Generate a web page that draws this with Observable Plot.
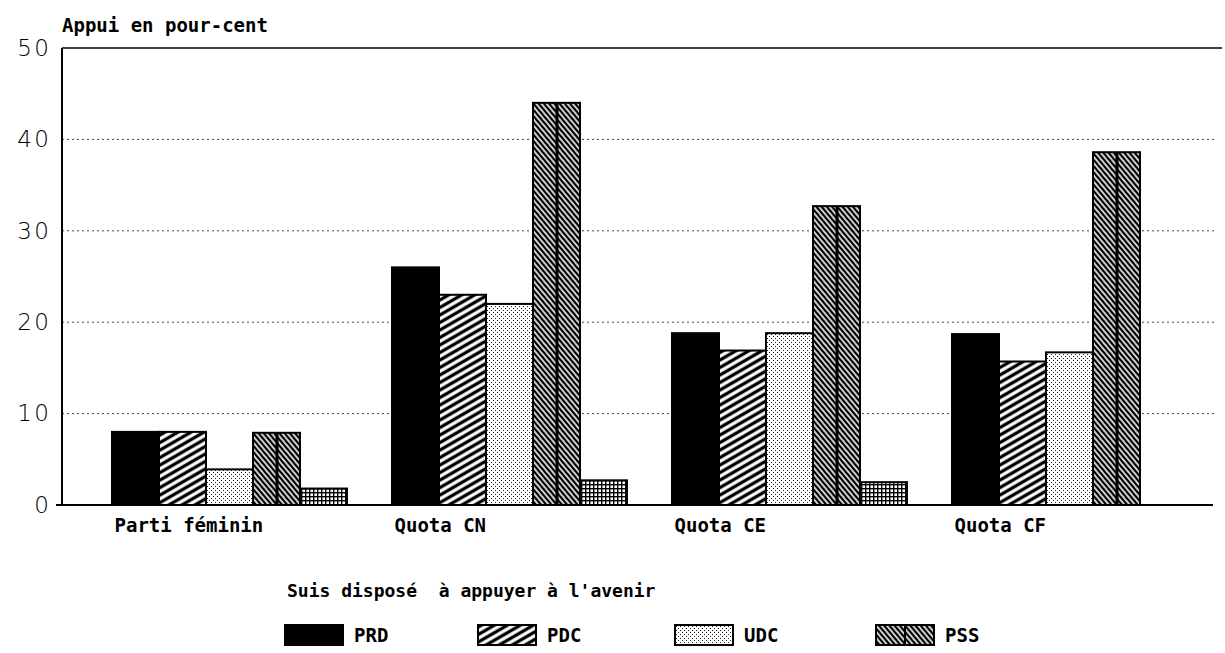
<!DOCTYPE html>
<html>
<head>
<meta charset="utf-8">
<script src="https://cdn.jsdelivr.net/npm/d3@7"></script>
<script src="https://cdn.jsdelivr.net/npm/@observablehq/plot@0.6"></script>
<style>
  html, body { margin: 0; padding: 0; background: #fff; }
  body { position: relative; width: 1225px; height: 653px; overflow: hidden; font-family: "DejaVu Sans Mono", monospace; color: #000; }
  #chart { position: absolute; left: 0; top: 0; }
  #subtitle { position: absolute; left: 287px; top: 580px; font-size: 18px; white-space: pre; font-weight: bold; }
  .leg { position: absolute; top: 624px; height: 22px; display: flex; align-items: center; font-size: 19px; font-weight: bold; }
  .leg svg { display: block; margin-right: 10px; }
</style>
</head>
<body>
<div id="chart"></div>
<div id="subtitle">Suis disposé  à appuyer à l'avenir</div>
<div id="legend"></div>
<script>
// ---- data ----
const groups = ["Parti féminin", "Quota CN", "Quota CE", "Quota CF"];
const parties = ["PRD", "PDC", "UDC", "PSS", "Autres"];
const prd = [8, 26, 18.8, 18.7];
const pdc = [8, 23, 16.9, 15.7];
const udc = [3.9, 22, 18.8, 16.7];
const pss = [7.9, 44, 32.7, 38.6];
const autres = [1.8, 2.7, 2.5, null];
const yTicks = [0, 10, 20, 30, 40, 50];
const gridTicks = [10, 20, 30, 40];
const legendParties = ["PRD", "PDC", "UDC", "PSS"];
const yTitle = "Appui en pour-cent";

const series = {PRD: prd, PDC: pdc, UDC: udc, PSS: pss, Autres: autres};
const rows = [];
groups.forEach((g, i) => parties.forEach(p => {
  const v = series[p][i];
  if (v != null) rows.push({group: g, party: p, value: v});
}));
const fills = {PRD: "black", PDC: "url(#pat-pdc)", UDC: "url(#pat-udc)", PSS: "url(#pat-pss)", Autres: "url(#pat-autres)"};

const W = 1225, H = 555, ML = 62, MR = 0, MT = 48, MB = 50;
const fxOpts = {paddingInner: 0.157, paddingOuter: 0.148, align: 0.566};
// offset of the first facet from the frame's left edge (band-scale geometry)
const step = (W - ML - MR) / (groups.length - fxOpts.paddingInner + 2 * fxOpts.paddingOuter);
const firstOffset = fxOpts.align * 2 * fxOpts.paddingOuter * step;

const plot = Plot.plot({
  width: W, height: H,
  marginLeft: ML, marginRight: MR, marginTop: MT, marginBottom: MB,
  style: {background: "transparent", color: "black"},
  fx: {domain: groups, ...fxOpts, label: null},
  x: {domain: parties, padding: 0, axis: null},
  y: {domain: [0, 50], label: null},
  color: {type: "identity"},
  marks: [
    Plot.axisY({ticks: yTicks, tickSize: 0, tickPadding: 13, dx: -firstOffset, fontSize: 23, fontFamily: "DejaVu Sans", label: null}),
    Plot.axisFx({anchor: "bottom", tickSize: 0, tickPadding: 13, textAnchor: "start", dx: -115, fontSize: 19, fontFamily: "DejaVu Sans Mono", fontWeight: "bold", label: null}),
    Plot.barY(rows, {fx: "group", x: "party", y: "value", fill: d => fills[d.party], stroke: "black", strokeWidth: 2}),
    Plot.ruleX(rows.filter(d => d.party === "PSS"), {fx: "group", x: "party", y1: 0, y2: "value", stroke: "black", strokeWidth: 3})
  ]
});

const svg = d3.select(plot);
svg.selectAll('g[aria-label*="y-axis"] text').style("letter-spacing", "2.5px").attr("font-weight", 300);
const yS = plot.scale("y");
const defs = svg.insert("defs", ":first-child");
function hatch(id, size, angle, sw) {
  const p = defs.append("pattern").attr("id", id).attr("patternUnits", "userSpaceOnUse")
    .attr("width", size).attr("height", size).attr("patternTransform", `rotate(${angle})`);
  p.append("rect").attr("width", size).attr("height", size).attr("fill", "white");
  p.append("line").attr("x1", 0).attr("x2", size).attr("y1", size / 2).attr("y2", size / 2)
    .attr("stroke", "black").attr("stroke-width", sw);
}
hatch("pat-pdc", 6.5, -30, 3.3);
hatch("pat-pss", 4.0, 50, 2.4);
{
  const p = defs.append("pattern").attr("id", "pat-udc").attr("patternUnits", "userSpaceOnUse").attr("width", 4).attr("height", 4);
  p.append("rect").attr("width", 4).attr("height", 4).attr("fill", "white");
  p.append("rect").attr("x", 0).attr("y", 0).attr("width", 1).attr("height", 1).attr("fill", "#222");
  p.append("rect").attr("x", 2).attr("y", 2).attr("width", 1).attr("height", 1).attr("fill", "#222");
}
{
  const p = defs.append("pattern").attr("id", "pat-autres").attr("patternUnits", "userSpaceOnUse").attr("width", 4).attr("height", 4);
  p.append("rect").attr("width", 4).attr("height", 4).attr("fill", "white");
  p.append("rect").attr("x", 0).attr("y", 0).attr("width", 4).attr("height", 1.4).attr("fill", "black");
  p.append("rect").attr("x", 0).attr("y", 0).attr("width", 1.4).attr("height", 4).attr("fill", "black");
}

// gridlines, frame lines (drawn with the plot's own y scale), behind the bars
const bg = svg.insert("g", "defs + *");
gridTicks.forEach(t => {
  bg.append("line").attr("x1", ML).attr("x2", W - 10).attr("y1", yS.apply(t)).attr("y2", yS.apply(t))
    .attr("stroke", "#444").attr("stroke-width", 1).attr("stroke-dasharray", "2,3");
});
const fg = svg.append("g");
fg.append("line").attr("x1", ML).attr("x2", W - 3).attr("y1", yS.apply(50)).attr("y2", yS.apply(50)).attr("stroke", "black").attr("stroke-width", 1.5);
fg.append("line").attr("x1", ML).attr("x2", ML).attr("y1", yS.apply(50)).attr("y2", yS.apply(0) + 1).attr("stroke", "black").attr("stroke-width", 2);
fg.append("line").attr("x1", ML - 6).attr("x2", W - 12).attr("y1", yS.apply(0)).attr("y2", yS.apply(0)).attr("stroke", "black").attr("stroke-width", 2);
fg.append("text").attr("x", ML).attr("y", yS.apply(50) - 16).attr("text-anchor", "start")
  .attr("font-family", "DejaVu Sans Mono").attr("font-weight", "bold").attr("font-size", 19).attr("fill", "black").text(yTitle);

document.getElementById("chart").appendChild(plot);

// legend
const legPos = {PRD: 284, PDC: 477, UDC: 674, PSS: 875};
const leg = d3.select("#legend");
legendParties.forEach(p => {
  const item = leg.append("div").attr("class", "leg").style("left", legPos[p] + "px");
  const s = item.append("svg").attr("width", 60).attr("height", 22);
  s.append("rect").attr("x", 1).attr("y", 1).attr("width", 58).attr("height", 20).attr("fill", fills[p]).attr("stroke", "black").attr("stroke-width", 2);
  if (p === "PSS") s.append("line").attr("x1", 30).attr("x2", 30).attr("y1", 1).attr("y2", 21).attr("stroke", "black").attr("stroke-width", 2);
  item.append("span").text(p);
});
</script>
</body>
</html>
